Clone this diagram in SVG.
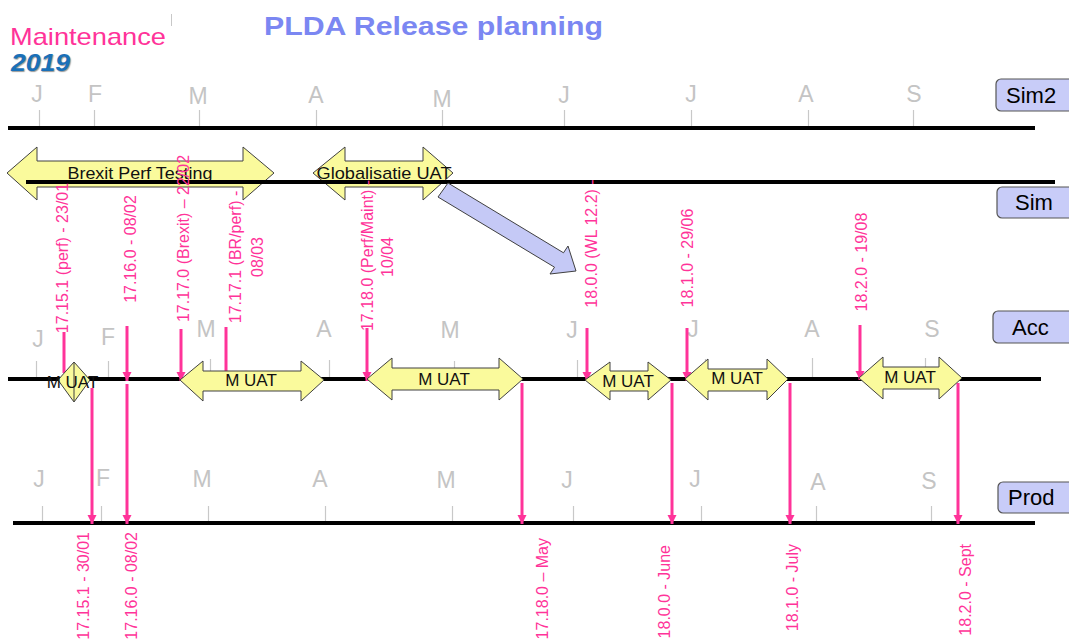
<svg xmlns="http://www.w3.org/2000/svg" width="1069" height="641" viewBox="0 0 1069 641">
<defs>
<style>
text{font-family:"Liberation Sans",Arial,sans-serif}
.mon{font-size:23px;fill:#c4c4c4;text-anchor:middle}
.tick{stroke:#c8c8c8;stroke-width:1.2}
.tl{stroke:#000;stroke-width:4;fill:none}
.box{fill:#c8ccf8;stroke:#555;stroke-width:1.2}
.boxt{font-size:22px;fill:#000}
.ya{fill:#fafa9c;stroke:#404040;stroke-width:1}
.yt{font-size:17px;fill:#111;text-anchor:middle}
.pk{stroke:#ff3399;stroke-width:3;fill:none}
.pkt{font-size:16px;fill:#ff3399}
</style>
<marker id="ah" viewBox="0 0 10 10" refX="10" refY="5" markerWidth="9" markerHeight="10" markerUnits="userSpaceOnUse" orient="auto">
<path d="M0,0 L10,5 L0,10 z" fill="#ff3399"/>
</marker>
</defs>
<rect width="1069" height="641" fill="#fff"/>

<g id="header">
<line x1="171.5" y1="14" x2="171.5" y2="26" stroke="#c8c8c8" stroke-width="1"/>
<text x="264" y="35" font-size="26" font-weight="bold" fill="#7b87f2" textLength="339" lengthAdjust="spacingAndGlyphs">PLDA Release planning</text>
<text x="10" y="45" font-size="24" fill="#ff3399" textLength="156" lengthAdjust="spacingAndGlyphs">Maintenance</text>
<text x="11" y="71" font-size="24" font-style="italic" font-weight="bold" fill="#1a70b8" textLength="59" lengthAdjust="spacingAndGlyphs" style="text-shadow:1px 1px 1px #999">2019</text>
</g>

<g id="row-sim2">
<g class="mon">
<text x="37" y="102">J</text><text x="95" y="102">F</text><text x="198" y="104">M</text><text x="316" y="103">A</text><text x="442" y="107">M</text><text x="564" y="103">J</text><text x="691" y="102">J</text><text x="806" y="102">A</text><text x="914" y="102">S</text>
</g>
<g class="tick">
<line x1="39.5" y1="110" x2="39.5" y2="128"/><line x1="94.5" y1="110" x2="94.5" y2="128"/><line x1="199.5" y1="110" x2="199.5" y2="128"/><line x1="316.5" y1="110" x2="316.5" y2="128"/><line x1="442.5" y1="110" x2="442.5" y2="128"/><line x1="564.5" y1="110" x2="564.5" y2="128"/><line x1="691.5" y1="110" x2="691.5" y2="128"/><line x1="808.5" y1="110" x2="808.5" y2="128"/><line x1="913.5" y1="110" x2="913.5" y2="128"/>
</g>
<line class="tl" x1="8" y1="128" x2="1035" y2="128"/>
</g>

<g id="box-sim2"><rect class="box" x="996" y="79" width="90" height="32" rx="5"/><text class="boxt" x="1006" y="103">Sim2</text></g>
<g id="box-sim"><rect class="box" x="997" y="187" width="90" height="31" rx="5"/><text class="boxt" x="1015" y="210">Sim</text></g>
<g id="box-acc"><rect class="box" x="993" y="311" width="90" height="32" rx="5"/><text class="boxt" x="1012" y="335">Acc</text></g>
<g id="box-prod"><rect class="box" x="998" y="482" width="90" height="31" rx="5"/><text class="boxt" x="1008" y="505">Prod</text></g>

<g id="brexit-perf-testing">
<polygon class="ya" points="7,173 37,147 37,161 243,161 243,147 274,173 243,200 243,187 37,187 37,200"/>
<text class="yt" x="140" y="179" font-size="16.5" textLength="145" lengthAdjust="spacingAndGlyphs">Brexit Perf Testing</text>
</g>
<g id="globalisatie-uat">
<polygon class="ya" points="313,173 345,147 345,161 423,161 423,147 453,173 423,200 423,187 345,187 345,200"/>
<text class="yt" x="384" y="179" font-size="16.5" textLength="135" lengthAdjust="spacingAndGlyphs">Globalisatie UAT</text>
</g>

<g id="row-sim">
<line class="tl" x1="26" y1="182" x2="1055" y2="182"/>
</g>

<g id="row-acc">
<g class="mon">
<text x="38" y="347">J</text><text x="108" y="345">F</text><text x="206" y="337">M</text><text x="324" y="337">A</text><text x="450" y="338">M</text><text x="572" y="338">J</text><text x="693" y="337">J</text><text x="812" y="337">A</text><text x="932" y="337">S</text>
</g>
<g class="tick">
<line x1="36.5" y1="361" x2="36.5" y2="379"/><line x1="108.5" y1="361" x2="108.5" y2="379"/><line x1="210.5" y1="359" x2="210.5" y2="379"/><line x1="329.5" y1="360" x2="329.5" y2="379"/><line x1="454.5" y1="361" x2="454.5" y2="379"/><line x1="577.5" y1="360" x2="577.5" y2="379"/><line x1="705.5" y1="359" x2="705.5" y2="379"/><line x1="812.5" y1="358" x2="812.5" y2="379"/><line x1="925.5" y1="358" x2="925.5" y2="379"/>
</g>
<line class="tl" x1="8" y1="379" x2="1041" y2="379"/>
</g>

<g id="row-prod">
<g class="mon">
<text x="39" y="487">J</text><text x="103" y="486">F</text><text x="202" y="487">M</text><text x="320" y="487">A</text><text x="446" y="488">M</text><text x="567" y="488">J</text><text x="695" y="487">J</text><text x="818" y="490">A</text><text x="929" y="489">S</text>
</g>
<g class="tick">
<line x1="42.5" y1="506" x2="42.5" y2="523"/><line x1="101.5" y1="506" x2="101.5" y2="523"/><line x1="208.5" y1="506" x2="208.5" y2="523"/><line x1="325.5" y1="506" x2="325.5" y2="523"/><line x1="452.5" y1="506" x2="452.5" y2="523"/><line x1="573.5" y1="506" x2="573.5" y2="523"/><line x1="701.5" y1="506" x2="701.5" y2="523"/><line x1="816.5" y1="506" x2="816.5" y2="523"/><line x1="931.5" y1="506" x2="931.5" y2="523"/>
</g>
<line class="tl" x1="13" y1="523" x2="1035" y2="523"/>
</g>

<g id="connectors">
<polygon points="448,183 563.5,252.8 568,246 576,271 550,274 554.5,267.2 438,197" fill="#c5c9f6" stroke="#404040" stroke-width="1"/>
<line class="pk" x1="64" y1="332" x2="64" y2="373"/>
<line class="pk" x1="127" y1="326" x2="127" y2="381" marker-end="url(#ah)"/>
<line class="pk" x1="181" y1="329" x2="181" y2="381" marker-end="url(#ah)"/>
<line class="pk" x1="226" y1="327" x2="226" y2="372"/>
<line class="pk" x1="367" y1="328" x2="367" y2="381" marker-end="url(#ah)"/>
<line class="pk" x1="587" y1="328" x2="587" y2="381" marker-end="url(#ah)"/>
<line class="pk" x1="687" y1="328" x2="687" y2="381" marker-end="url(#ah)"/>
<line class="pk" x1="860" y1="325" x2="860" y2="380" marker-end="url(#ah)"/>
<line class="pk" x1="92" y1="388" x2="92" y2="524" marker-end="url(#ah)"/>
<line class="pk" x1="127" y1="384" x2="127" y2="524" marker-end="url(#ah)"/>
<line class="pk" x1="522" y1="383" x2="522" y2="524" marker-end="url(#ah)"/>
<line class="pk" x1="672" y1="383" x2="672" y2="524" marker-end="url(#ah)"/>
<line class="pk" x1="790" y1="383" x2="790" y2="524" marker-end="url(#ah)"/>
<line class="pk" x1="958" y1="383" x2="958" y2="524" marker-end="url(#ah)"/>
</g>

<g id="m-uat-1">
<polygon class="ya" points="58,380 74,362 90,380 74,402"/>
<line x1="74" y1="363" x2="74" y2="401" stroke="#404040" stroke-width="1"/>
<text class="yt" x="72.5" y="388">M UAT</text>
</g>
<g id="m-uat-2">
<polygon class="ya" points="180,380 203,361 203,371 301,371 301,361 324,380 301,401 301,391 203,391 203,401"/>
<text class="yt" x="251" y="386">M UAT</text>
</g>
<g id="m-uat-3">
<polygon class="ya" points="367,379 392,358 392,368 499,368 499,358 523,379 499,400 499,390 392,390 392,400"/>
<text class="yt" x="444" y="385">M UAT</text>
</g>
<g id="m-uat-4">
<polygon class="ya" points="585,380 610,362 610,371 648,371 648,362 671,380 648,400 648,391 610,391 610,400"/>
<text class="yt" x="628" y="387">M UAT</text>
</g>
<g id="m-uat-5">
<polygon class="ya" points="685,379 708,359 708,369 767,369 767,359 788,379 767,400 767,391 708,391 708,400"/>
<text class="yt" x="737" y="384">M UAT</text>
</g>
<g id="m-uat-6">
<polygon class="ya" points="859,378 883,357 883,367 939,367 939,357 962,378 939,399 939,389 883,389 883,399"/>
<text class="yt" x="910" y="383">M UAT</text>
</g>

<g id="acc-labels" class="pkt" text-anchor="middle">
<text transform="translate(68,258) rotate(-90)">17.15.1 (perf) - 23/01</text>
<text transform="translate(136,249) rotate(-90)">17.16.0 - 08/02</text>
<text transform="translate(189,238.5) rotate(-90)">17.17.0 (Brexit) – 22/02</text>
<text transform="translate(241,257) rotate(-90)">17.17.1 (BR/perf) -</text>
<text transform="translate(263,257) rotate(-90)">08/03</text>
<text transform="translate(373,255.5) rotate(-90)">17.18.0 (Perf/Maint) -</text>
<text transform="translate(393,257) rotate(-90)">10/04</text>
<text transform="translate(597,243.5) rotate(-90)">18.0.0 (WL 12.2) -</text>
<text transform="translate(693,258) rotate(-90)">18.1.0 - 29/06</text>
<text transform="translate(867,262) rotate(-90)">18.2.0 - 19/08</text>
</g>

<g id="prod-labels" class="pkt" text-anchor="end">
<text transform="translate(89,532) rotate(-90)">17.15.1 - 30/01</text>
<text transform="translate(137,532) rotate(-90)">17.16.0 - 08/02</text>
<text transform="translate(548,538) rotate(-90)">17.18.0 – May</text>
<text transform="translate(670,545) rotate(-90)">18.0.0 - June</text>
<text transform="translate(798,544) rotate(-90)">18.1.0 - July</text>
<text transform="translate(971,544) rotate(-90)">18.2.0 - Sept</text>
</g>
</svg>
